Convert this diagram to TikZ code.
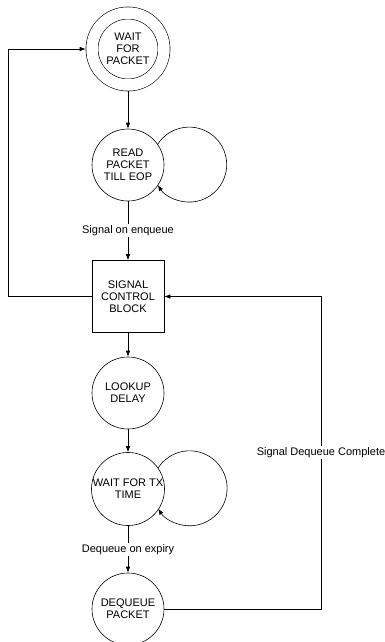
\documentclass[tikz,border=0pt]{standalone}
\usepackage{fontspec}
\setmainfont{Liberation Sans}
\usetikzlibrary{arrows, arrows.meta}
\tikzset{state/.style = {shape = circle, draw, minimum size = 72pt, inner sep = 0pt, align = center}}
\tikzset{accept/.style = {state, double, double distance = 11.5pt, outer sep = 6.3pt}}
\tikzset{block/.style = {shape = rectangle, draw, minimum size = 72pt, inner sep = 0pt, align = center}}
\tikzset{edge/.style = {->, > = {Latex[length = 6pt, width = 4.5pt]}}}
\tikzset{tag/.style = {fill = white, inner sep = 1.5pt}}

\begin{document}
\begin{tikzpicture}[x = 1pt, y = -1pt, line width = 0.6pt, font = \fontsize{11}{12}\selectfont]
				\useasboundingbox (0, 0) rectangle (385, 642);

				\node[accept] (wait) at (128, 49) {WAIT\\FOR\\PACKET};
				\node[state] (read) at (128, 165) {READ\\PACKET\\TILL EOP};
				\node[block] (signal) at (128, 296.5) {SIGNAL\\CONTROL\\BLOCK};
				\node[state] (lookup) at (128, 393) {LOOKUP\\DELAY};
				\node[state] (txwait) at (128, 489) {WAIT FOR TX\\TIME};
				\node[state] (dequeue) at (128, 609) {DEQUEUE\\PACKET};

				\coordinate (lbot) at (8, 296.5);
				\coordinate (ltop) at (8, 49);
				\coordinate (rbot) at (321, 609);
				\coordinate (rtop) at (321, 296.5);

				\draw[edge] (wait) to (read);
				\draw[edge] (read.35) arc[start angle = -147, end angle = 147, radius = 37.5];
				\draw[edge] (read) to node[tag] {Signal on enqueue} (signal);
				\draw[edge] (signal) -- (lbot) -- (ltop) -- (wait);
				\draw[edge] (signal) to (lookup);
				\draw[edge] (lookup) to (txwait);
				\draw[edge] (txwait.35) arc[start angle = -147, end angle = 147, radius = 37.5];
				\draw[edge] (txwait) to node[tag] {Dequeue on expiry} (dequeue);
				\draw[edge] (dequeue) -- (rbot) -- node[tag] {Signal Dequeue Complete} (rtop) -- (signal);
			\end{tikzpicture}
\end{document}
